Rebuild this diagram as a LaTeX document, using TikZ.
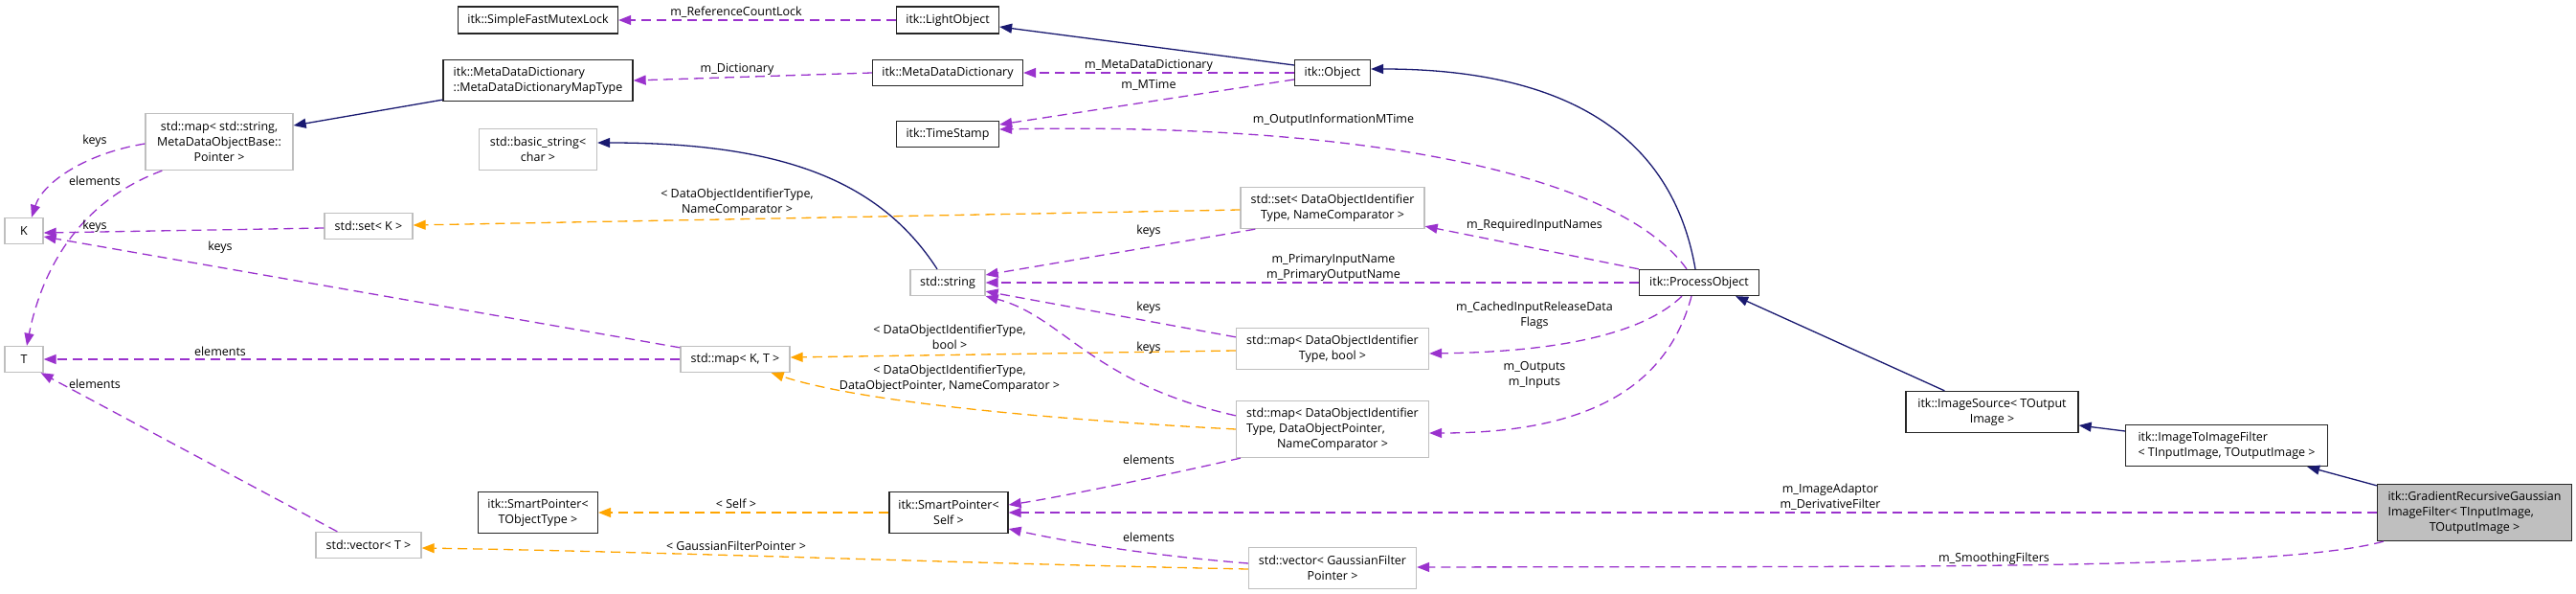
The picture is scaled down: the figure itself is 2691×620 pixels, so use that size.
\documentclass[tikz,border=0pt]{standalone}
\usepackage{fontspec}
\setmainfont{Open Sans}
\usetikzlibrary{arrows.meta,calc}
\definecolor{memc}{HTML}{9A32CD}
\definecolor{tplc}{HTML}{FFA500}
\definecolor{inhc}{HTML}{191970}
\definecolor{extc}{HTML}{BFBFBF}
\newcommand{\mcc}[1]{\multicolumn{1}{@{}c@{}}{#1}}
\begin{document}
\begin{tikzpicture}[x=1pt,y=-1pt,
  txt/.style={font=\fontsize{12.5}{16}\selectfont},
  box/.style={txt, rectangle, inner sep=0pt, line width=1.3pt, align=center},
  doc/.style={box, draw=black!85, fill=white},
  ext/.style={box, draw=extc, fill=white},
  lab/.style={txt, inner sep=0pt, align=center},
  tip/.style={-{Triangle[length=13pt,width=10pt]}},
  mem/.style={tip, draw=memc, line width=1.3pt, dash pattern=on 10pt off 6pt},
  tpl/.style={tip, draw=tplc, line width=1.3pt, dash pattern=on 10pt off 6pt},
  inh/.style={tip, draw=inhc, line width=1.3pt}]
\useasboundingbox (0,0) rectangle (2691,620);

% ---------- nodes ----------
\node[doc, minimum width=167, minimum height=28] (sfml) at (562,21) {itk::SimpleFastMutexLock};
\node[doc, minimum width=107, minimum height=28] (light) at (990,21) {itk::LightObject};
\node[doc, minimum width=198, minimum height=43, align=left] (mapType) at (562,84) {itk::MetaDataDictionary\\::MetaDataDictionaryMapType};
\node[doc, minimum width=157, minimum height=27] (mdd) at (990,76) {itk::MetaDataDictionary};
\node[doc, minimum width=79, minimum height=27] (object) at (1392,76) {itk::Object};
\node[doc, minimum width=107, minimum height=27] (timestamp) at (990,140) {itk::TimeStamp};
\node[ext, minimum width=154, minimum height=59] (mapstr) at (229,148) {std::map< std::string,\\MetaDataObjectBase::\\Pointer >};
\node[ext, minimum width=123, minimum height=43] (basicstr) at (562,156) {std::basic\_string<\\char >};
\node[ext, minimum width=92, minimum height=27] (setK) at (385,236) {std::set< K >};
\node[ext, minimum width=40, minimum height=27] (K) at (25,241) {K};
\node[ext, minimum width=40, minimum height=27] (T) at (25,375) {T};
\node[ext, minimum width=78, minimum height=27] (string) at (990,295) {std::string};
\node[ext, minimum width=192, minimum height=43] (setDO) at (1392,217) {std::set< DataObjectIdentifier\\Type, NameComparator >};
\node[doc, minimum width=125, minimum height=27] (process) at (1775,295) {itk::ProcessObject};
\node[ext, minimum width=114, minimum height=27] (mapKT) at (768,375) {std::map< K, T >};
\node[ext, minimum width=201, minimum height=43] (mapBool) at (1392,364) {std::map< DataObjectIdentifier\\Type, bool >};
\node[ext, minimum width=201, minimum height=59] (mapDOP) at (1392,448) {\begin{tabular}{@{}l@{}}std::map< DataObjectIdentifier\\Type, DataObjectPointer,\\\mcc{NameComparator >}\end{tabular}};
\node[doc, minimum width=125, minimum height=43] (spTO) at (562,535) {itk::SmartPointer<\\TObjectType >};
\node[doc, minimum width=124, minimum height=43] (spSelf) at (991,535) {itk::SmartPointer<\\Self >};
\node[ext, minimum width=110, minimum height=27] (vecT) at (385,569) {std::vector< T >};
\node[ext, minimum width=175, minimum height=43] (vecGF) at (1392,593) {std::vector< GaussianFilter\\Pointer >};
\node[doc, minimum width=180, minimum height=43] (imgSource) at (2081,430) {itk::ImageSource< TOutput\\Image >};
\node[doc, minimum width=211, minimum height=43] (i2i) at (2326,465) {\begin{tabular}{@{}l@{}}itk::ImageToImageFilter\\\mcc{< TInputImage, TOutputImage >}\end{tabular}};
\node[doc, fill=extc, minimum width=203, minimum height=59] (grad) at (2585,535) {\begin{tabular}{@{}l@{}}itk::GradientRecursiveGaussian\\ImageFilter< TInputImage,\\\mcc{TOutputImage >}\end{tabular}};

% ---------- connectors ----------
\draw[mem] (light.west) -- (sfml.east);
\draw[inh] ($(object.west)+(0,-8)$) -- ($(light.east)+(0,7)$);
\draw[mem] (mdd.west) -- (mapType.east);
\draw[mem] (object.west) -- (mdd.east);
\draw[mem] ($(object.west)+(0,7)$) -- ($(timestamp.east)+(0,-10)$);
\draw[mem] ($(process.north)+(-13,0)$) .. controls (1690,180) and (1420,128) .. ($(timestamp.east)+(0,-5)$);
\draw[inh] ($(process.north)+(-4,0)$) .. controls (1745,130) and (1620,72) .. ($(object.east)+(0,-4)$);
\draw[inh] ($(mapType.south west)+(0,-2)$) -- ($(mapstr.east)+(0,-17)$);
\draw[mem] ($(mapstr.west)+(0,2)$) .. controls (90,160) and (45,190) .. ($(K.north)+(8,0)$);
\draw[mem] ($(mapstr.south west)+(18,0)$) .. controls (70,215) and (40,300) .. ($(T.north)+(3,0)$);
\draw[inh] ($(string.north)+(-11,0)$) .. controls (920,190) and (820,149) .. ($(basicstr.east)+(0,-7)$);
\draw[tpl] ($(setDO.west)+(0,2)$) -- ($(setK.east)+(0,-1)$);
\draw[mem] ($(setK.west)+(0,2)$) -- ($(K.east)+(0,2)$);
\draw[mem] ($(mapKT.north west)+(0,2)$) -- ($(K.east)+(0,6)$);
\draw[mem] (mapKT.west) -- (T.east);
\draw[tpl] ($(mapBool.west)+(0,2)$) -- ($(mapKT.east)+(0,-2)$);
\draw[tpl] (mapDOP.west) .. controls (1100,438) and (900,420) .. ($(mapKT.south east)+(-20,0)$);
\draw[mem] ($(setDO.south west)+(16,0)$) -- ($(string.east)+(0,-8)$);
\draw[mem] (process.west) -- (string.east);
\draw[mem] ($(mapBool.north west)+(0,10)$) -- ($(string.south east)+(0,-5)$);
\draw[mem] ($(mapDOP.north west)+(0,16)$) .. controls (1140,400) and (1110,330) .. (string.south east);
\draw[mem] ($(mapDOP.south west)+(5,0)$) .. controls (1200,500) and (1100,520) .. ($(spSelf.east)+(0,-8)$);
\draw[mem] (grad.west) -- (spSelf.east);
\draw[mem] ($(vecGF.west)+(0,-5)$) .. controls (1180,578) and (1100,562) .. ($(spSelf.east)+(0,17)$);
\draw[tpl] (spSelf.west) -- (spTO.east);
\draw[tpl] ($(vecGF.west)+(0,1)$) .. controls (1000,588) and (700,576) .. ($(vecT.east)+(0,3)$);
\draw[mem] ($(vecT.north west)+(23,0)$) -- ($(T.south east)+(-3,0)$);
\draw[mem] ($(grad.south west)+(7,0)$) .. controls (2380,595) and (2000,591) .. ($(vecGF.east)+(0,-1)$);
\draw[mem] (process.north west) -- ($(setDO.south east)+(0,-3)$);
\draw[mem] ($(process.south)+(-18,0)$) .. controls (1720,345) and (1640,367) .. ($(mapBool.east)+(0,5)$);
\draw[mem] ($(process.south)+(-8,0)$) .. controls (1740,410) and (1650,452) .. ($(mapDOP.east)+(0,4)$);
\draw[inh] ($(imgSource.north west)+(41,0)$) -- ($(process.south east)+(-25,0)$);
\draw[inh] ($(i2i.west)+(0,-15)$) -- ($(imgSource.east)+(0,14)$);
\draw[inh] ($(grad.north west)+(0,2)$) -- ($(i2i.south east)+(-22,0)$);

% ---------- labels ----------
\node[lab] (l1) at (769,13) {m\_ReferenceCountLock};
\node[lab] (l2) at (770,72) {m\_Dictionary};
\node[lab] (l3) at (1200,68) {m\_MetaDataDictionary};
\node[lab] (l4) at (1200,89) {m\_MTime};
\node[lab] (l5) at (1393,125) {m\_OutputInformationMTime};
\node[lab] (l6) at (99,147) {keys};
\node[lab] (l7) at (99,189) {elements};
\node[lab] (l8) at (99,236) {keys};
\node[lab] (l9) at (230,258) {keys};
\node[lab] (l10) at (230,367) {elements};
\node[lab] (l11) at (99,401) {elements};
\node[lab] (l12) at (770,211) {< DataObjectIdentifierType,\\NameComparator >};
\node[lab] (l13) at (1200,241) {keys};
\node[lab] (l14) at (1393,279) {m\_PrimaryInputName\\m\_PrimaryOutputName};
\node[lab] (l15) at (1603,235) {m\_RequiredInputNames};
\node[lab] (l16) at (1200,321) {keys};
\node[lab] (l17) at (1603,329) {m\_CachedInputReleaseData\\Flags};
\node[lab] (l18) at (992,352) {< DataObjectIdentifierType,\\bool >};
\node[lab] (l19) at (1200,363) {keys};
\node[lab] (l20) at (1603,391) {m\_Outputs\\m\_Inputs};
\node[lab] (l21) at (992,395) {< DataObjectIdentifierType,\\DataObjectPointer, NameComparator >};
\node[lab] (l22) at (1200,480) {elements};
\node[lab] (l23) at (1912,519) {m\_ImageAdaptor\\m\_DerivativeFilter};
\node[lab] (l24) at (769,526) {< Self >};
\node[lab] (l25) at (1200,561) {elements};
\node[lab] (l26) at (769,570) {< GaussianFilterPointer >};
\node[lab] (l27) at (2083,583) {m\_SmoothingFilters};
\end{tikzpicture}
\end{document}
